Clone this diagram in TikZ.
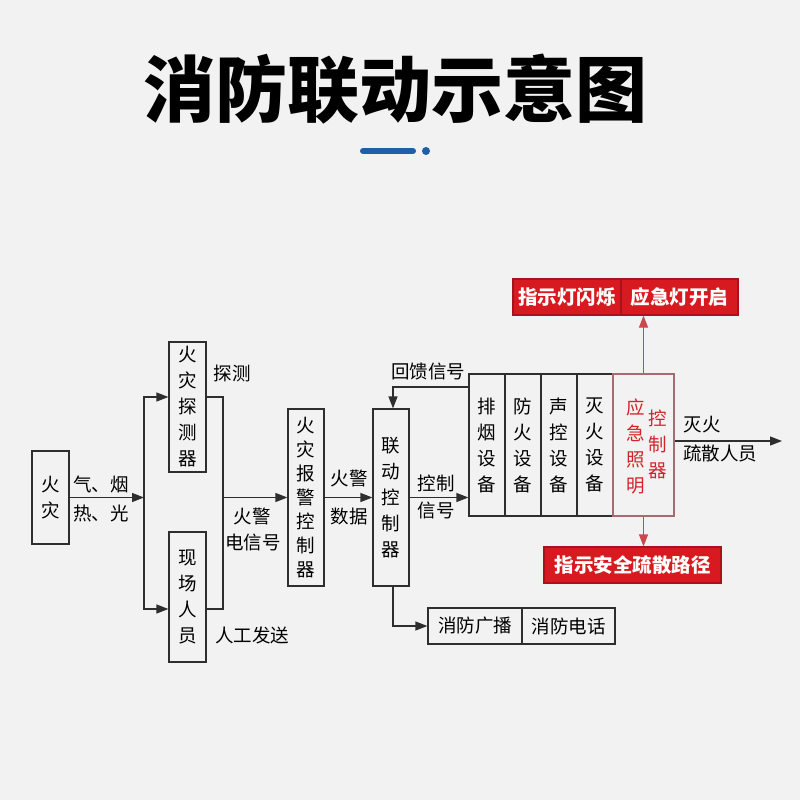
\documentclass[tikz,border=0pt]{standalone}
\usepackage{fontspec}
\setmainfont{Noto Sans CJK SC}
\usetikzlibrary{arrows.meta}
\definecolor{bg}{HTML}{F2F2F2}
\definecolor{ln}{HTML}{2E2E2E}
\definecolor{redfill}{HTML}{D71A20}
\definecolor{redline}{HTML}{A8121A}
\definecolor{redtxt}{HTML}{D2232A}
\definecolor{redarrow}{HTML}{C9474D}
\definecolor{emerline}{HTML}{A86A70}
\definecolor{blue}{HTML}{1F5FA8}
\tikzset{
  box/.style={draw=ln, line width=1.2pt, inner sep=0pt, align=center,
    font=\fontsize{18.5}{26}\selectfont, text=black},
  redbox/.style={draw=redline, fill=redfill, line width=1.2pt, inner sep=0pt,
    font=\fontsize{19.5}{22}\selectfont\bfseries, text=white},
  lbl/.style={inner sep=0pt, font=\fontsize{18.5}{22}\selectfont, text=black},
  redlbl/.style={inner sep=0pt, align=center, font=\fontsize{18.5}{26}\selectfont, text=redtxt},
  arr/.style={draw=ln, line width=1.2pt, -{Triangle[length=12pt,width=9pt]}},
  plain/.style={draw=ln, line width=1.2pt},
  redarr/.style={draw=redarrow, line width=1.2pt, -{Triangle[length=12pt,width=9pt]}}
}
\begin{document}
\begin{tikzpicture}[x=1pt,y=-1pt]
\fill[bg] (0,0) rectangle (800,800);
\useasboundingbox (0,0) rectangle (800,800);

% title
\node (title) at (395,89) {\fontsize{72}{80}\selectfont\bfseries 消防联动示意图};
\draw[blue, line width=6pt, line cap=round] (363,151) -- (413,151);
\fill[blue] (426,151) circle (4pt);

% boxes
\node[box, minimum width=37pt, minimum height=93pt] (fire) at (50.5,497.5) {火\\灾};
\node[box, minimum width=37pt, minimum height=130pt] (det) at (187.5,407) {火\\灾\\探\\测\\器};
\node[box, minimum width=37pt, minimum height=130pt] (man) at (187.5,597) {现\\场\\人\\员};
\node[box, minimum width=36pt, minimum height=177pt, font=\fontsize{18.5}{24}\selectfont] (alarm) at (306,497.5) {火\\灾\\报\\警\\控\\制\\器};
\node[box, minimum width=36pt, minimum height=177pt] (link) at (391,497.5) {联\\动\\控\\制\\器};
\node[box, minimum width=36pt, minimum height=142pt] (d1) at (487,445) {排\\烟\\设\\备};
\node[box, minimum width=36pt, minimum height=142pt] (d2) at (523,445) {防\\火\\设\\备};
\node[box, minimum width=36pt, minimum height=142pt] (d3) at (559,445) {声\\控\\设\\备};
\node[box, minimum width=36pt, minimum height=142pt] (d4) at (595,445) {灭\\火\\设\\备};
\node[box, draw=emerline, minimum width=61pt, minimum height=142pt] (emer) at (643.5,445) {};
\node[redlbl] (emerA) at (636,446) {应\\急\\照\\明};
\node[redlbl] (emerB) at (658,444) {控\\制\\器};

\node[redbox, minimum width=108pt, minimum height=36pt] (r1) at (567,297) {指示灯闪烁};
\node[redbox, minimum width=117pt, minimum height=36pt] (r2) at (679.5,297) {应急灯开启};
\node[redbox, minimum width=177pt, minimum height=36pt] (r3) at (632.5,565) {指示安全疏散路径};

\node[box, minimum width=94pt, minimum height=36pt] (b1) at (475,626) {消防广播};
\node[box, minimum width=93pt, minimum height=36pt] (b2) at (568.5,626) {消防电话};

% labels
\node[lbl] (l1) at (101,484) {气、烟};
\node[lbl] (l2) at (101,513) {热、光};
\node[lbl] (l3) at (232,373) {探测};
\node[lbl] (l4) at (252,635) {人工发送};
\node[lbl] (l5) at (252,516) {火警};
\node[lbl] (l6) at (253,542) {电信号};
\node[lbl] (l7) at (349,478) {火警};
\node[lbl] (l8) at (349,516) {数据};
\node[lbl] (l9) at (436,483) {控制};
\node[lbl] (l10) at (436,510) {信号};
\node[lbl] (l11) at (428,371) {回馈信号};
\node[lbl] (l12) at (702,425) {灭火};
\node[lbl] (l13) at (720,453) {疏散人员};

% connectors
\coordinate (split) at (144,497.5);
\coordinate (join) at (223,497.5);
\coordinate (out) at (782,441);
\draw[arr] (fire.east) -- (split);
\draw[arr] (split) |- ([yshift=10pt]det.west);
\draw[arr] (split) |- ([yshift=-12pt]man.west);
\draw[plain] ([yshift=10pt]det.east) -| (join) |- ([yshift=-12pt]man.east);
\draw[arr] (join) -- (alarm.west);
\draw[arr] (alarm.east) -- (link.west);
\draw[arr] (link.east) -- (link.east -| d1.west);
\draw[arr] ([yshift=58pt]d1.west) -| ([xshift=2pt]link.north);
\draw[arr] ([xshift=2pt]link.south) |- (b1.west);
\draw[redarr] (emer.north) -- (emer.north |- r2.south);
\draw[redarr] (emer.south) -- (emer.south |- r3.north);
\draw[arr] ([yshift=4pt]emer.east) -- (out);
\end{tikzpicture}
\end{document}
